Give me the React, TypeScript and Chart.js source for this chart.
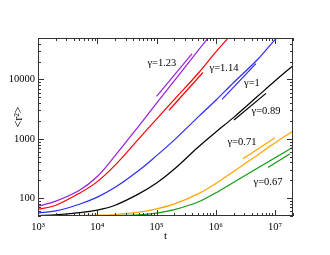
import React, { useEffect, useRef } from 'react';
import { Chart, registerables } from 'chart.js';

Chart.register(...registerables);

// Time grid (t) shared by the curves
const T = [1e3, 2e3, 5e3, 1e4, 2e4, 5e4, 1e5, 2e5, 5e5, 1e6, 2e6, 5e6, 1e7, 2e7];

// <r^2> curves
const R_123 = [73, 89, 136, 232, 520, 1640, 3990, 9530, 30600, 73000];
const R_114 = [65, 76, 121, 190, 360, 1000, 2150, 4630, 12600, 29200, 64000];
const R_100 = [56, 61, 79, 104, 152, 292, 520, 960, 2320, 4460, 8900, 21500, 47000, 94000];
const R_089 = [51, 52.5, 57, 63, 76, 118, 180, 310, 720, 1300, 2300, 5150, 9500, 17100];
const R_071 = [50.3, 50.6, 51, 51.6, 53, 58, 66, 80, 118, 177, 282, 530, 860, 1355];
const R_067 = [50, 50.1, 50.3, 50.6, 51.2, 52.5, 56, 64, 86, 123, 186, 319, 481, 723];

// Short power-law guide segments (t at ends, <r^2> at ends)
const SEG_T_123 = [1.0e5, 3.95e5];
const SEG_R_123 = [5200, 27000];
const SEG_T_114 = [1.62e5, 6.05e5];
const SEG_R_114 = [3030, 13100];
const SEG_T_100 = [1.27e6, 4.74e6];
const SEG_R_100 = [4630, 18500];
const SEG_T_089 = [2.02e6, 7.0e6];
const SEG_R_089 = [2070, 5830];
const SEG_T_071 = [2.86e6, 9.93e6];
const SEG_R_071 = [463, 1040];
const SEG_T_067 = [7.57e6, 1.78e7];
const SEG_R_067 = [328, 561];

// Annotations
const LABELS = ['γ=1.23', 'γ=1.14', 'γ=1', 'γ=0.89', 'γ=0.71', 'γ=0.67'];
const LABEL_T = [1.23e5, 1.37e6, 4.06e6, 7.0e6, 2.75e6, 7.57e6];
const LABEL_R = [19100, 15200, 8550, 2930, 890, 185];

const COLORS = ['#9a1ee0', '#ff0000', '#2a2aff', '#000000', '#ffa500', '#119a11'];

// Axes
const X_MIN = 1e3;
const X_MAX = 2e7;
const Y_MIN = 50;
const Y_MAX = 50000;
const X_TICKS = [1e3, 1e4, 1e5, 1e6, 1e7];
const Y_TICKS = [100, 1000, 10000];
const X_TITLE = 't';
const Y_TITLE = '<r²>';

const SUP: Record<string, string> = { '0': '⁰', '1': '¹', '2': '²', '3': '³', '4': '⁴', '5': '⁵', '6': '⁶', '7': '⁷', '8': '⁸', '9': '⁹' };
const FONT = '"Liberation Serif", "Times New Roman", serif';

const pts = (ts: number[], rs: number[]) => rs.map((r, i) => ({ x: ts[i], y: r }));
const isTick = (v: number, list: number[]) => list.some((t) => Math.abs(Math.log10(v) - Math.log10(t)) < 1e-6);

const framePlugin = {
  id: 'frameTicks',
  afterDatasetsDraw(chart: any) {
    const { ctx, chartArea: a, scales } = chart;
    const xs = scales.x;
    const ys = scales.y;
    ctx.save();
    ctx.strokeStyle = '#333';
    ctx.lineWidth = 1;
    ctx.strokeRect(a.left + 0.5, a.top + 0.5, a.right - a.left - 1, a.bottom - a.top - 1);
    ctx.beginPath();
    for (let e = 3; e <= 7; e++) {
      for (let k = 1; k <= 9; k++) {
        const v = k * Math.pow(10, e);
        if (v < X_MIN || v > X_MAX) continue;
        const px = Math.round(xs.getPixelForValue(v)) + 0.5;
        const len = k === 1 ? 6 : 3;
        ctx.moveTo(px, a.bottom);
        ctx.lineTo(px, a.bottom - len);
        ctx.moveTo(px, a.top);
        ctx.lineTo(px, a.top + len);
      }
    }
    for (let e = 1; e <= 4; e++) {
      for (let k = 1; k <= 9; k++) {
        const v = k * Math.pow(10, e);
        if (v < Y_MIN || v > Y_MAX) continue;
        const py = Math.round(ys.getPixelForValue(v)) + 0.5;
        const len = k === 1 ? 6 : 3;
        ctx.moveTo(a.left, py);
        ctx.lineTo(a.left + len, py);
        ctx.moveTo(a.right, py);
        ctx.lineTo(a.right - len, py);
      }
    }
    ctx.stroke();

    ctx.fillStyle = '#000';
    ctx.font = `10.5px ${FONT}`;
    ctx.textAlign = 'center';
    ctx.textBaseline = 'middle';
    LABELS.forEach((lab, i) => {
      ctx.fillText(lab, xs.getPixelForValue(LABEL_T[i]), ys.getPixelForValue(LABEL_R[i]));
    });

    // y-axis title
    ctx.save();
    ctx.font = `12px ${FONT}`;
    ctx.translate(19, (a.top + a.bottom) / 2 - 10);
    ctx.rotate(-Math.PI / 2);
    ctx.fillText(Y_TITLE, 0, 0);
    ctx.restore();
    ctx.restore();
  },
};

export default function App() {
  const ref = useRef<HTMLCanvasElement | null>(null);

  useEffect(() => {
    if (!ref.current) return;
    const curves = [R_123, R_114, R_100, R_089, R_071, R_067];
    const segT = [SEG_T_123, SEG_T_114, SEG_T_100, SEG_T_089, SEG_T_071, SEG_T_067];
    const segR = [SEG_R_123, SEG_R_114, SEG_R_100, SEG_R_089, SEG_R_071, SEG_R_067];
    const datasets: any[] = [];
    curves.forEach((rs, i) => {
      datasets.push({
        data: pts(T, rs),
        borderColor: COLORS[i],
        borderWidth: 1.2,
        pointRadius: 0,
        tension: 0.35,
        capBezierPoints: false,
      });
      datasets.push({
        data: pts(segT[i], segR[i]),
        borderColor: COLORS[i],
        borderWidth: 1.2,
        pointRadius: 0,
        tension: 0,
      });
    });

    const chart = new Chart(ref.current, {
      type: 'line',
      data: { datasets },
      options: {
        responsive: false,
        animation: false,
        devicePixelRatio: 1,
        layout: { padding: { left: 0, right: 37, top: 38, bottom: 0 } },
        plugins: { legend: { display: false }, tooltip: { enabled: false } },
        elements: { line: { capBezierPoints: false } },
        scales: {
          x: {
            type: 'logarithmic',
            min: X_MIN,
            max: X_MAX,
            grid: { display: false, drawTicks: false },
            border: { display: false },
            ticks: {
              autoSkip: false,
              maxRotation: 0,
              padding: 5,
              color: '#000',
              font: { family: FONT, size: 10.5 },
              callback: (v: any) => {
                const n = Number(v);
                if (!isTick(n, X_TICKS)) return '';
                const e = String(Math.round(Math.log10(n)));
                return '10' + e.split('').map((c) => SUP[c]).join('');
              },
            },
            title: {
              display: true,
              text: X_TITLE,
              color: '#000',
              font: { family: FONT, size: 11 },
              padding: { top: 0, bottom: 12 },
            },
            afterFit: (s: any) => {
              s.height = 39;
            },
          },
          y: {
            type: 'logarithmic',
            min: Y_MIN,
            max: Y_MAX,
            grid: { display: false, drawTicks: false },
            border: { display: false },
            ticks: {
              autoSkip: false,
              padding: 3,
              color: '#000',
              font: { family: FONT, size: 10.5 },
              callback: (v: any) => {
                const n = Number(v);
                return isTick(n, Y_TICKS) ? String(Math.round(n)) : '';
              },
            },
            afterFit: (s: any) => {
              s.width = 38;
            },
          },
        },
      } as any,
      plugins: [framePlugin],
    });
    return () => chart.destroy();
  }, []);

  return (
    <div style={{ position: 'fixed', left: 0, top: 0, width: 330, height: 255, background: '#fff' }}>
      <canvas ref={ref} width={330} height={255} style={{ display: 'block' }} />
    </div>
  );
}
